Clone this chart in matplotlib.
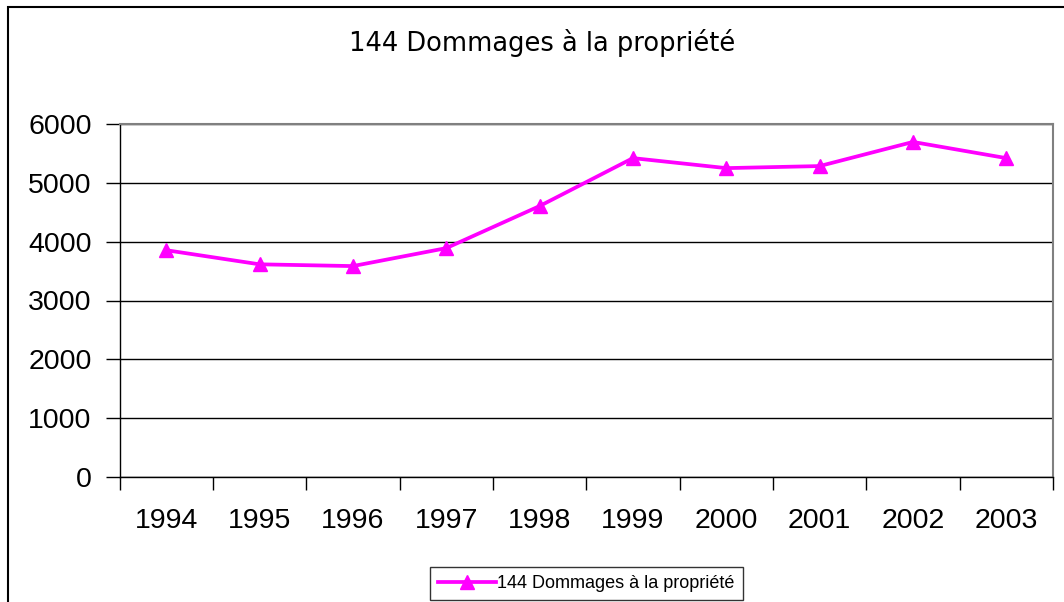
import matplotlib.pyplot as plt
from matplotlib.patches import Rectangle

plt.rcParams['font.family'] = ['Liberation Sans', 'DejaVu Sans']

# donnees
annees = ['1994', '1995', '1996', '1997', '1998', '1999', '2000', '2001', '2002', '2003']
valeurs = [3855, 3615, 3585, 3890, 4605, 5420, 5250, 5285, 5695, 5420]
titre = "144 Dommages à la propriété"
yticks = [0, 1000, 2000, 3000, 4000, 5000, 6000]

fig = plt.figure(figsize=(10.64, 6.02), dpi=100)
ax = fig.add_axes([119.5 / 1064, 125 / 602, (1053 - 119.5) / 1064, (477 - 124) / 602])

# cadre exterieur du graphique (coupe a droite et en bas)
fig.patches.append(Rectangle((7.5 / 1064, -0.05), 1.1, 0.05 + (602 - 6.5) / 602,
                             transform=fig.transFigure, fill=False,
                             edgecolor='black', linewidth=1.5))

x = list(range(len(annees)))
ax.plot(x, valeurs, color='#FF00FF', linewidth=2.7, marker='^', markersize=10,
        label=titre, clip_on=False)

ax.set_xlim(-0.5, len(annees) - 0.5)
ax.set_ylim(0, 6000)
ax.set_yticks(yticks)
ax.set_yticklabels([str(v) for v in yticks], fontsize=20.5)
ax.set_xticks(x)
ax.set_xticklabels(annees, fontsize=20.5)
ax.tick_params(axis='x', length=0, pad=22)
ax.set_xticks([i - 0.5 for i in range(len(annees) + 1)], minor=True)
ax.tick_params(axis='x', which='minor', length=9, width=1, direction='out')
ax.tick_params(axis='y', length=10, width=1, direction='out', pad=10)

ax.grid(axis='y', color='black', linewidth=1)
ax.set_axisbelow(True)
for s in ['top', 'right']:
    ax.spines[s].set_color('#808080')
    ax.spines[s].set_linewidth(1.5)
ax.spines['left'].set_linewidth(1)
ax.spines['bottom'].set_linewidth(1)

fig.text(542 / 1064, 1 - 43 / 602, titre, fontsize=18.5, ha='center', va='center',
         family=['DejaVu Sans'])

leg = fig.legend(loc='center', bbox_to_anchor=(586.5 / 1064, 1 - 583.5 / 602),
                 fontsize=13, frameon=True, fancybox=False, handlelength=3.2,
                 handletextpad=0.05, borderpad=0.45, borderaxespad=0)
leg.get_frame().set_edgecolor('black')
leg.get_frame().set_linewidth(1)

fig.savefig('out.png', dpi=100)
